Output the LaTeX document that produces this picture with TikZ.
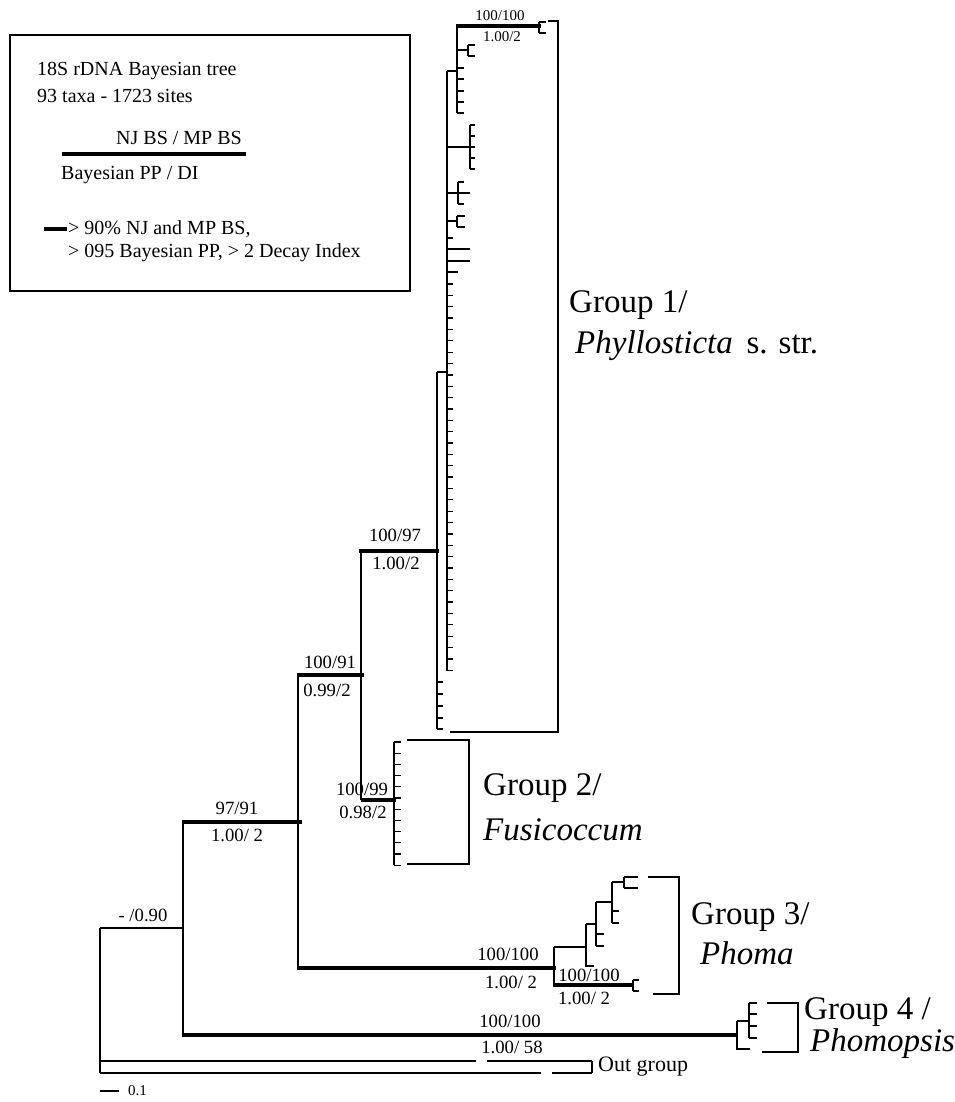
\documentclass[tikz,border=0pt]{standalone}
\usepackage{fontspec}
\setmainfont{Liberation Serif}
\usepackage{tikz}
\usetikzlibrary{positioning}

\begin{document}
\begin{tikzpicture}[x=1pt, y=-1pt]
    % Styles
    \tikzstyle{branch} = [draw, line width=1.3pt]
    \tikzstyle{strong} = [draw, line width=4.5pt]
    \tikzstyle{support} = [inner sep=0pt, font=\fontsize{18.7}{20}\selectfont]
    \tikzstyle{topsupport} = [inner sep=0pt, font=\fontsize{15}{16}\selectfont]
    \tikzstyle{grouplabel} = [inner sep=0pt, anchor=west, font=\fontsize{33}{36}\selectfont]
    \tikzstyle{legendtext} = [inner sep=0pt, anchor=west, font=\fontsize{20}{22}\selectfont]

    \useasboundingbox (0,0) rectangle (954,1102);
    \fill [white] (0,0) rectangle (954,1102);

    % Legend
    \draw [line width=2.5pt] (10,35) rectangle (410,291);
    \node [legendtext] (title) at (37,71) {18S rDNA Bayesian tree};
    \node [legendtext] (taxa) at (37,96) {93 taxa - 1723 sites};
    \node [legendtext] (bsline) at (116,138) {NJ BS / MP BS};
    \draw [strong, line width=3.5pt] (62,154) -- (246,154);
    \node [legendtext] (ppline) at (61,175) {Bayesian PP / DI};
    \draw [strong, line width=4pt] (44,229) -- (67,229);
    \node [legendtext] (keyone) at (68,229) {> 90\% NJ and MP BS,};
    \node [legendtext] (keytwo) at (68,253) {> 095 Bayesian PP, > 2 Decay Index};

    % Group 1 clade
    \draw [strong] (456,26) -- (541,26);
    \draw [branch] (539,22) -- (539,33);
    \foreach \y in {22,33} \draw [branch] (539,\y) -- (546,\y);
    \node [topsupport] (supa) at (500,16) {100/100};
    \node [topsupport] (ppa) at (502,37) {1.00/2};
    \draw [branch] (457,26) -- (457,113);
    \draw [branch] (457,50) -- (468,50) (468,45) -- (468,56);
    \foreach \y in {45,56} \draw [branch] (468,\y) -- (475,\y);
    \foreach \y in {68,79,91,102,113} \draw [branch] (457,\y) -- (464,\y);
    \draw [branch] (447,71) -- (457,71);
    \draw [branch] (447,71) -- (447,671);
    \draw [branch] (447,147) -- (475,147) (470,125) -- (470,169);
    \foreach \y in {125,136,158,169} \draw [branch] (470,\y) -- (475,\y);
    \draw [branch] (447,193) -- (470,193) (458,182) -- (458,204);
    \foreach \y in {182,204} \draw [branch] (458,\y) -- (464,\y);
    \draw [branch] (447,221) -- (457,221) (457,216) -- (457,227);
    \foreach \y in {216,227} \draw [branch] (457,\y) -- (465,\y);
    \draw [branch] (447,238) -- (453,238);
    \foreach \y in {249,261} \draw [branch] (447,\y) -- (470,\y);
    \draw [branch] (447,272) -- (458,272);
    \foreach \k in {0,...,34} \draw [branch] (447,{284+11.36*\k}) -- ++(6,0);
    \draw [branch] (437,372) -- (447,372);
    \draw [branch] (437,372) -- (437,729);
    \foreach \y in {682,694,706,718,729} \draw [branch] (437,\y) -- (443,\y);
    \draw [branch] (548,21) -- (558,21) -- (558,732) -- (450,732);
    \node [grouplabel] (gone) at (569,305) {Group 1/};
    \node [grouplabel] (gonename) at (575,346) {\textit{Phyllosticta}\, s. str.};

    % Group 1 + Group 2
    \draw [strong] (359,551) -- (439,551);
    \node [support] (supb) at (395,535) {100/97};
    \node [support] (ppb) at (396,563) {1.00/2};
    \draw [branch] (361,551) -- (361,800);
    \draw [strong] (297,675) -- (364,675);
    \node [support] (supc) at (330,662) {100/91};
    \node [support] (ppc) at (327,690) {0.99/2};

    % Group 2 clade
    \draw [strong] (361,800) -- (396,800);
    \node [support] (supd) at (362,789) {100/99};
    \node [support] (ppd) at (363,812) {0.98/2};
    \draw [branch] (394,742) -- (394,865);
    \foreach \k in {0,...,11} \draw [branch] (394,{742+11.2*\k}) -- ++(7,0);
    \draw [branch] (407,740) -- (469,740) -- (469,864) -- (407,864);
    \node [grouplabel] (gtwo) at (483,788) {Group 2/};
    \node [grouplabel] (gtwoname) at (483,830) {\textit{Fusicoccum}};

    % Backbone
    \draw [branch] (298,675) -- (298,968);
    \draw [strong] (182,822) -- (302,822);
    \node [support] (supe) at (237,808) {97/91};
    \node [support] (ppe) at (237,835) {1.00/ 2};
    \draw [branch] (183,822) -- (183,1035);
    \draw [branch] (100,928) -- (183,928);
    \node [support] (supf) at (143,915) {- /0.90};
    \draw [branch] (100,928) -- (100,1073);

    % Group 3 clade
    \draw [strong] (297,968) -- (556,968);
    \node [support] (supg) at (508,954) {100/100};
    \node [support] (ppg) at (511,982) {1.00/ 2};
    \draw [branch] (554,947) -- (554,985);
    \draw [strong] (553,985) -- (634,985);
    \node [support] (suph) at (589,975) {100/100};
    \node [support] (pph) at (584,998) {1.00/ 2};
    \draw [branch] (633,980) -- (633,991);
    \foreach \y in {980,991} \draw [branch] (633,\y) -- (639,\y);
    \draw [branch] (554,947) -- (586,947) (586,924) -- (586,966) -- (594,966);
    \draw [branch] (586,924) -- (596,924) (596,902) -- (596,946);
    \foreach \y in {934,946} \draw [branch] (596,\y) -- (604,\y);
    \draw [branch] (596,902) -- (612,902) (612,882) -- (612,923);
    \foreach \y in {911,923} \draw [branch] (612,\y) -- (619,\y);
    \draw [branch] (612,882) -- (624,882) (624,877) -- (624,888);
    \foreach \y in {877,888} \draw [branch] (624,\y) -- (638,\y);
    \draw [branch] (648,877) -- (679,877) -- (679,994) -- (653,994);
    \node [grouplabel] (gthree) at (691,917) {Group 3/};
    \node [grouplabel] (gthreename) at (700,953) {\textit{Phoma}};

    % Group 4 clade
    \draw [strong] (182,1035) -- (738,1035);
    \node [support] (supi) at (510,1021) {100/100};
    \node [support] (ppi) at (512,1047) {1.00/ 58};
    \draw [branch] (737,1021) -- (737,1049) -- (750,1049);
    \draw [branch] (737,1021) -- (749,1021) (749,1003) -- (749,1038);
    \foreach \y in {1003,1014,1026,1038} \draw [branch] (749,\y) -- (757,\y);
    \draw [branch] (767,1003) -- (798,1003) -- (798,1052) -- (762,1052);
    \node [grouplabel] (gfour) at (804,1012) {Group 4 /};
    \node [grouplabel] (gfourname) at (810,1044) {\textit{Phomopsis}};

    % Out group
    \draw [branch] (100,1061) -- (476,1061) (487,1061) -- (592,1061);
    \draw [branch] (100,1073) -- (541,1073) (552,1073) -- (592,1073);
    \draw [branch] (592,1061) -- (592,1073);
    \node [inner sep=0pt, anchor=west, font=\fontsize{22}{24}\selectfont] (outg) at (598,1067) {Out group};

    % Scale bar
    \draw [branch] (100,1091) -- (119,1091);
    \node [inner sep=0pt, anchor=west, font=\fontsize{15}{16}\selectfont] (scale) at (128,1091) {0.1};
\end{tikzpicture}
\end{document}
